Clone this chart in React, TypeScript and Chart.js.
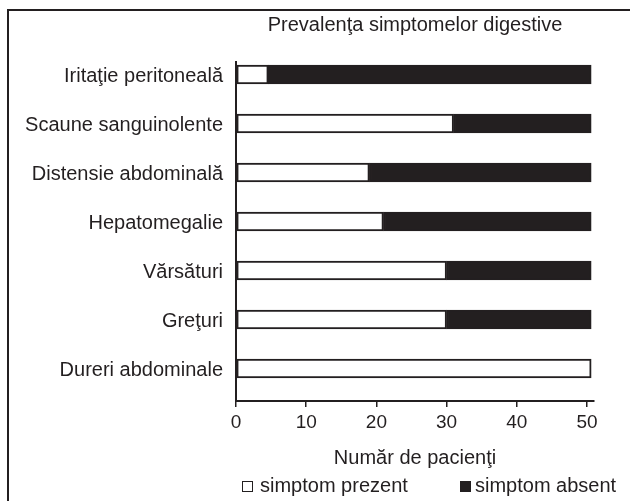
import React, { useEffect, useRef } from "react";
import { Chart, registerables } from "chart.js";

Chart.register(...registerables);

// ---- data ----
const CATEGORIES = [
  "Iritaţie peritoneală",
  "Scaune sanguinolente",
  "Distensie abdominală",
  "Hepatomegalie",
  "Vărsături",
  "Greţuri",
  "Dureri abdominale",
];
const PREZENT = [4.6, 31, 19, 21, 30, 30, 50.6];
const ABSENT = [46, 19.6, 31.6, 29.6, 20.6, 20.6, 0];
const X_TICKS = [0, 10, 20, 30, 40, 50];
const SERIES_NAMES = ["simptom prezent", "simptom absent"];
const TITLE = "Prevalenţa simptomelor digestive";
const X_TITLE = "Număr de pacienţi";

// ---- styles ----
const INK = "#231f20";
const FAMILY = '"Liberation Sans", Arial, Helvetica, sans-serif';
const SERIES_FILL = ["#ffffff", INK];

export default function App() {
  const canvasRef = useRef<HTMLCanvasElement | null>(null);

  useEffect(() => {
    const canvas = canvasRef.current;
    if (!canvas) return;
    const chart = new Chart(canvas, {
      type: "bar",
      data: {
        datasets: [PREZENT, ABSENT].map((vals, s) => ({
          label: SERIES_NAMES[s],
          data: vals.map((v, i) => ({ x: v, y: i })),
          backgroundColor: SERIES_FILL[s],
          borderColor: INK,
          borderWidth: 2,
          borderSkipped: false,
          barThickness: 19,
        })),
      },
      options: {
        indexAxis: "y",
        animation: false,
        responsive: false,
        layout: { padding: { top: 62, right: 36, left: 0, bottom: 0 } },
        plugins: {
          legend: { display: false },
          title: { display: false },
          tooltip: { enabled: false },
        },
        scales: {
          x: {
            type: "linear",
            stacked: true,
            min: 0,
            max: 51,
            offset: false,
            afterBuildTicks: (s: any) => {
              s.ticks = X_TICKS.map((v) => ({ value: v }));
            },
            afterFit: (s: any) => {
              s.height = 100;
            },
            grid: {
              display: true,
              offset: false,
              drawOnChartArea: false,
              drawTicks: true,
              tickLength: 6,
              color: INK,
              lineWidth: 1.5,
            },
            border: { display: true, color: INK, width: 2 },
            ticks: {
              font: { family: FAMILY, size: 19 },
              color: INK,
              padding: 4,
              maxRotation: 0,
              autoSkip: false,
            },
            title: {
              display: true,
              text: X_TITLE,
              font: { family: FAMILY, size: 20 },
              color: INK,
              padding: { top: 0, bottom: 31 },
            },
          },
          y: {
            type: "linear",
            stacked: true,
            reverse: true,
            offset: false,
            min: -0.255,
            max: 6.663,
            afterBuildTicks: (s: any) => {
              s.ticks = CATEGORIES.map((_, i) => ({ value: i }));
            },
            afterFit: (s: any) => {
              s.width = 236;
            },
            grid: { display: false, drawTicks: false, offset: false },
            border: { display: true, color: INK, width: 2 },
            ticks: {
              font: { family: FAMILY, size: 20 },
              color: INK,
              padding: 13,
              labelOffset: 2,
              autoSkip: false,
              callback: (v: any) => CATEGORIES[Math.round(Number(v))] ?? "",
            },
          },
        },
      } as any,
    });
    return () => chart.destroy();
  }, []);

  const textStyle: React.CSSProperties = {
    position: "absolute",
    fontFamily: FAMILY,
    fontSize: 20,
    lineHeight: "20px",
    color: INK,
    whiteSpace: "nowrap",
  };
  const boxLefts = [242, 460];
  const textLefts = [260, 475];

  return (
    <div
      style={{
        position: "fixed",
        left: 0,
        top: 0,
        width: 630,
        height: 501,
        overflow: "hidden",
        background: "#ffffff",
      }}
    >
      <div
        style={{
          position: "absolute",
          left: 7,
          top: 9,
          width: 700,
          height: 600,
          borderTop: `2px solid ${INK}`,
          borderLeft: `2px solid ${INK}`,
        }}
      />
      <canvas
        ref={canvasRef}
        width={630}
        height={501}
        style={{ position: "absolute", left: 0, top: 0, width: 630, height: 501 }}
      />
      <div style={{ ...textStyle, left: 236, width: 358, top: 14, textAlign: "center" }}>
        {TITLE}
      </div>
      {SERIES_NAMES.map((name, s) => (
        <React.Fragment key={name}>
          <div
            style={{
              position: "absolute",
              left: boxLefts[s],
              top: 481,
              width: 11,
              height: 11,
              boxSizing: "border-box",
              border: `1.5px solid ${INK}`,
              background: SERIES_FILL[s],
            }}
          />
          <div style={{ ...textStyle, left: textLefts[s], top: 475 }}>{name}</div>
        </React.Fragment>
      ))}
    </div>
  );
}
